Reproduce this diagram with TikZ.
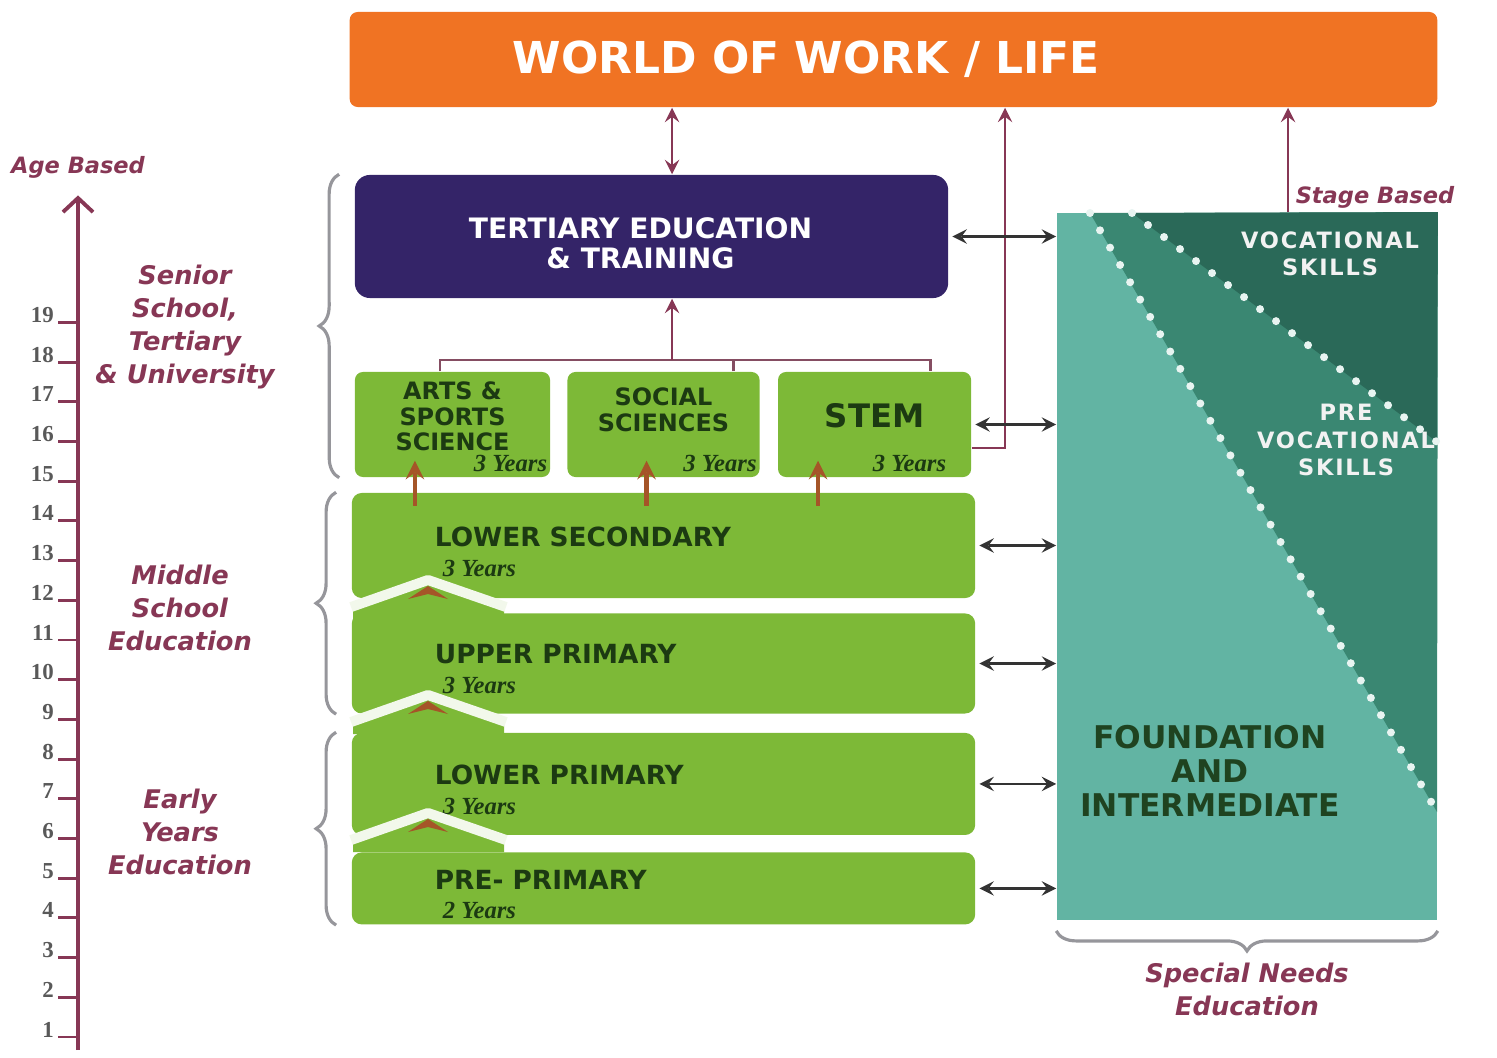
\documentclass[tikz,border=0pt]{standalone}
\usepackage{fontspec}
\setmainfont{DejaVu Sans}
\newfontfamily\yrsfont{Liberation Serif}
\newfontfamily\spacedfont[LetterSpace=8]{DejaVu Sans}
\usepackage{xcolor}
\usepackage{tikz}
\usetikzlibrary{shapes,arrows,arrows.meta,positioning,decorations.pathreplacing}
\definecolor{workc}{RGB}{240,115,35}
\definecolor{tertc}{RGB}{52,36,104}
\definecolor{leaf}{RGB}{125,185,55}
\definecolor{ink}{RGB}{28,58,18}
\definecolor{wine}{RGB}{135,55,85}
\definecolor{rust}{RGB}{165,85,40}
\definecolor{tealA}{RGB}{98,180,163}
\definecolor{tealB}{RGB}{58,135,114}
\definecolor{tealC}{RGB}{42,105,88}
\definecolor{brgray}{RGB}{150,150,155}

\begin{document}
\begin{tikzpicture}[
  x=0.01cm,y=-0.01cm,
  workbox/.style={rectangle,fill=workc,rounded corners=0.08cm,minimum width=10.87cm,minimum height=0.95cm},
  worktxt/.style={inner sep=0pt,text=white,font=\bfseries\fontsize{12.5}{14}\selectfont},
  tertbox/.style={rectangle,fill=tertc,rounded corners=0.15cm,minimum width=5.93cm,minimum height=1.23cm},
  terttxt/.style={align=center,inner sep=0pt,text=white,font=\bfseries\fontsize{8}{8.6}\selectfont},
  pathbox/.style={rectangle,fill=leaf,rounded corners=0.08cm,minimum height=1.05cm,inner sep=0pt},
  pathtxt/.style={align=center,text=ink,inner sep=0pt,font=\bfseries\fontsize{6.8}{7.3}\selectfont},
  stagebox/.style={rectangle,fill=leaf,rounded corners=0.1cm,minimum width=6.23cm,inner sep=0pt},
  stagetxt/.style={anchor=west,inner sep=0pt,text=ink,font=\bfseries\fontsize{7.5}{9}\selectfont},
  yrs/.style={inner sep=0pt,text=ink,font=\yrsfont\bfseries\itshape\fontsize{7}{8}\selectfont},
  panel/.style={rectangle,fill=tealA,minimum width=3.8cm,minimum height=7.07cm,inner sep=0pt},
  skill/.style={align=center,text=white!90!gray,font=\spacedfont\bfseries\fontsize{6.4}{7.8}\selectfont},
  side/.style={align=center,text=wine,font=\bfseries\itshape\fontsize{7.3}{9.4}\selectfont},
  agenum/.style={anchor=base east,inner sep=1pt,text=gray!70!black,font=\yrsfont\bfseries\fontsize{6.5}{7}\selectfont},
  biarr/.style={<->,>=stealth,thick,black!80,shorten <=1pt},
  uparr/.style={->,>=stealth,thick,wine},
  duoarr/.style={<->,>=stealth,thick,wine},
  mline/.style={thick,wine!70!gray},
  brarr/.style={->,>=stealth,line width=1.3pt,rust},
  brc/.style={decorate,decoration={brace,amplitude=0.2cm},line width=0.9pt,brgray},
  dotline/.style={white!85!tealA,line width=0.08cm,line cap=round,dash pattern=on 0pt off 0.2cm}
]
  \useasboundingbox (0,0) rectangle (1497,1058);

  % top blocks
  \node[workbox] (world) at (893.5,59.5) {};
  \node[worktxt,right=1.63cm of world.west] (worldt) {WORLD OF WORK / LIFE};
  \node[tertbox] (tert) at (651.5,236.5) {};
  \node[terttxt] (tert-t) at ([xshift=-0.11cm,yshift=-0.065cm]tert.center) {TERTIARY EDUCATION\\\& TRAINING};

  % pathways
  \node[pathbox,minimum width=1.95cm] (arts) at (452.5,424.5) {};
  \node[pathbox,minimum width=1.92cm,right=0.16cm of arts] (soc) {};
  \node[pathbox,minimum width=1.93cm,right=0.17cm of soc] (stem) {};
  \node[pathtxt] (arts-t) at ([yshift=0.08cm]arts.center) {ARTS \&\\SPORTS\\SCIENCE};
  \node[pathtxt] (soc-t) at ([yshift=0.145cm]soc.center) {SOCIAL\\SCIENCES};
  \node[pathtxt,font=\bfseries\fontsize{9.2}{10}\selectfont] (stem-t) at ([yshift=0.085cm]stem.center) {STEM};
  \node[yrs,above left=0.05cm and 0.03cm of arts.south east] (arts-y) {3 Years};
  \node[yrs,above left=0.05cm and 0.03cm of soc.south east] (soc-y) {3 Years};
  \node[yrs,above left=0.05cm and 0.25cm of stem.south east] (stem-y) {3 Years};

  % stages
  \node[stagebox,minimum height=1.05cm] (lsec) at (663.5,545.5) {};
  \node[stagebox,minimum height=1.00cm,below=0.14cm of lsec] (upri) {};
  \node[stagebox,minimum height=1.02cm,below=0.18cm of upri] (lpri) {};
  \node[stagebox,minimum height=0.72cm,below=0.16cm of lpri] (ppri) {};
  \foreach \b/\t/\n in {lsec/LOWER SECONDARY/3,upri/UPPER PRIMARY/3,lpri/LOWER PRIMARY/3,ppri/PRE- PRIMARY/2} {
    \node[stagetxt] (\b-t) at ([xshift=0.83cm,yshift=0.09cm]\b.west) {\t};
    \node[yrs,below right=0.12cm and 0.08cm of \b-t.south west] (\b-y) {\n\ Years};
  }
  \foreach \g in {607,722,840} {
    \fill[leaf] (353,\g+3) -- (428,\g-24) -- (504,\g+3) -- (504,\g+12) -- (353,\g+12) -- cycle;
    \draw[white!90!leaf,line width=0.1cm,line join=round] (351,\g) -- (428,\g-27) -- (506,\g);
    \fill[rust] (408,\g-8) -- (428,\g-21) -- (448,\g-8) -- (428,\g-13) -- cycle;
  }
  \foreach \p/\dx in {arts/-0.375,soc/-0.17,stem/-0.565}
    \draw[brarr] ([xshift=\dx cm,yshift=-0.28cm]\p.south) -- ++(0,0.45cm);

  % special needs panel
  \node[panel] (found) at (1247,566.5) {};
  \fill[tealB] (1090,213) -- (found.north east) -- (1437,812) -- cycle;
  \fill[tealC] (1132,213) -- (found.north east) -- (1437,442) -- cycle;
  \draw[dotline] (1090,213) -- (1437,812);
  \draw[dotline] (1132,213) -- (1437,442);
  \node[skill] (voc) at (1330,254) {VOCATIONAL\\SKILLS};
  \node[skill] (prevoc) at (1346,440) {PRE\\VOCATIONAL\\SKILLS};
  \node[align=center,text=ink!80!tealC,font=\bfseries\fontsize{8.9}{9.7}\selectfont] (fnd) at (1210,771) {FOUNDATION\\AND\\INTERMEDIATE};

  % links
  \draw[duoarr] ([xshift=0.205cm]tert.north) -- ([xshift=0.205cm]tert.north |- world.south);
  \coordinate (brk) at (672,360);
  \draw[mline] ([xshift=-0.125cm]arts.north) |- (brk) -| ([xshift=0.555cm]stem.north);
  \draw[mline] ([xshift=0.7cm]soc.north) -- ([xshift=0.7cm]soc.north |- brk);
  \draw[uparr] (brk) -- (brk |- tert.south);
  \draw[uparr] ([yshift=-0.235cm]stem.east) -| ([xshift=1.115cm]world.south);
  \draw[uparr] ([xshift=0.41cm]found.north) -- ([xshift=0.41cm]found.north |- world.south);
  \draw[biarr] (tert.east) -- (tert.east -| found.west);
  \foreach \b in {stem,lsec,upri,lpri,ppri}
    \draw[biarr] (\b.east) -- (\b.east -| found.west);

  % braces and side labels
  \draw[brc] ([xshift=-0.15cm]arts.south west) -- ([xshift=-0.15cm]tert.north west);
  \draw[brc] ([xshift=-0.15cm]upri.south west) -- ([xshift=-0.15cm]lsec.north west);
  \draw[brc] ([xshift=-0.15cm]ppri.south west) -- ([xshift=-0.15cm]lpri.north west);
  \draw[brc] ([yshift=-0.1cm]found.south east) -- ([yshift=-0.1cm]found.south west);
  \node[side] (senior) at (185,327) {Senior\\School,\\Tertiary\\\& University};
  \node[side] (middle) at (180,608) {Middle\\School\\Education};
  \node[side] (early) at (180,832) {Early\\Years\\Education};
  \node[side] (sne) at (1247,989) {Special Needs\\Education};
  \node[side,font=\bfseries\itshape\fontsize{6.4}{7}\selectfont] (stageb) at (1375,197) {Stage Based};

  % age axis
  \node[side,font=\bfseries\itshape\fontsize{6.4}{7}\selectfont] (ageb) at (78,167) {Age Based};
  \draw[wine,line width=1.1pt,-{Straight Barb[length=0.14cm,width=0.3cm]}] (78,1050) -- ([yshift=-0.05cm]ageb.south);
  \foreach \n in {1,...,19} {
    \pgfmathsetmacro\ty{1037-(\n-1)*39.7}
    \node[agenum] (a\n) at (58,\ty) {\n};
    \draw[wine,thick] (a\n.base east) -- (78,\ty);
  }
\end{tikzpicture}
\end{document}
